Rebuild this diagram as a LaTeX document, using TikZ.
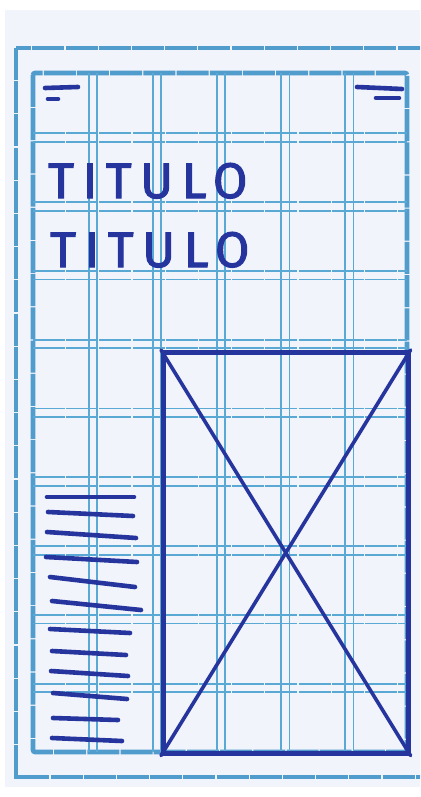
\documentclass[tikz,border=0pt]{standalone}
\usepackage{fontspec}
\newfontfamily\handfont[LetterSpace=17,FakeBold=2]{Fira Sans}
\usetikzlibrary{positioning}

\definecolor{paper}{RGB}{242,244,251}
\definecolor{gridblue}{RGB}{90,168,212}
\definecolor{frameblue}{RGB}{80,156,204}
\definecolor{ink}{RGB}{38,52,158}

\begin{document}
\begin{tikzpicture}[x=1pt, y=-1pt,
    gridline/.style={gridblue, line width=1.8pt},
    hline/.style={gridline, dash pattern=on 32pt off 1.2pt},
    frameline/.style={frameblue, line width=4pt, dash pattern=on 32pt off 1.2pt},
    pen/.style={draw=ink, line width=4.6pt, line cap=round, line join=round},
    titletext/.style={text=ink, font=\handfont\fontsize{50}{50}\selectfont, inner sep=0pt, anchor=base west}
]
\useasboundingbox (0,0) rectangle (420,797);
\clip (0,0) rectangle (420,797);
\fill[white] (0,0) rectangle (420,797);
\fill[paper] (5,10) rectangle (420,787);

% outer and inner frame
\draw[frameline] (16,48) rectangle (440,777);
\draw[frameline, line width=4.6pt, rounded corners=2pt] (33,73) rectangle (407,752);

% column gutters
\foreach \k in {1,...,5} {
  \draw[gridline] ({33+64.1*\k-8.5},73) -- ++(0,679);
  \draw[gridline] ({33+64.1*\k},73) -- ++(0,679);
}
% row gutters
\foreach \k in {1,...,9} {
  \draw[hline] (33,{73+68.8*\k-8.5}) -- (407,{73+68.8*\k-8.5});
  \draw[hline] (33,{73+68.8*\k}) -- (407,{73+68.8*\k});
}

% header icons
\draw[pen] (45,88) -- (78,87);
\draw[pen] (48,99) -- (58,99);
\draw[pen] (357,87) -- (402,89);
\draw[pen] (376,98) -- (399,98);

% titles
\node[titletext] (title1) at (48,198) {TITULO};
\node[titletext] (title2) at (50,267) {TITULO};

% image placeholder
\node[draw=ink, line width=4.6pt, minimum width=245pt, minimum height=401pt,
      inner sep=0pt, anchor=north west] (imgbox) at (161,350) {};
\draw[pen, line width=3.6pt] (imgbox.north west) -- (imgbox.south east);
\draw[pen, line width=3.6pt] (imgbox.north east) -- (imgbox.south west);

% paragraph lines
\foreach \xa/\ya/\xb/\yb in {47/497/134/497, 48/512/133/516, 47/532/136/538,
    46/557/137/562, 50/577/135/587, 52/601/141/610, 50/629/130/633,
    52/651/126/655, 51/671/128/676, 53/693/127/699, 53/718/118/720,
    52/738/122/741}
  \draw[pen] (\xa,\ya) -- (\xb,\yb);
\end{tikzpicture}
\end{document}
